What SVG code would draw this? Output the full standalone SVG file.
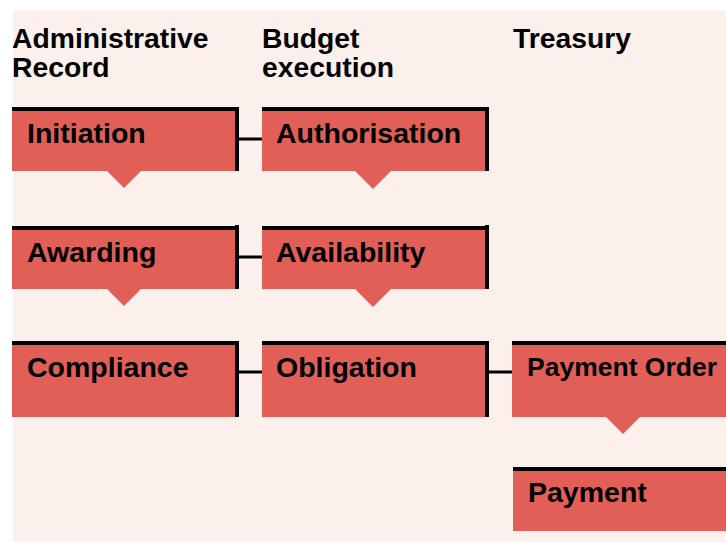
<svg xmlns="http://www.w3.org/2000/svg" width="726" height="543" viewBox="0 0 726 543">
  <style>
    .bg { fill: #fbf0ec; }
    .box { fill: #e25f58; }
    .edge { fill: #000000; }
    .tip { fill: #e25f58; }
    .head { font-family: "Liberation Sans", Arial, sans-serif; font-weight: bold; font-size: 28.3px; fill: #000; }
    .label { font-family: "Liberation Sans", Arial, sans-serif; font-weight: bold; font-size: 28.5px; fill: #000; }
    .label.small { font-size: 26.5px; }
    .link { stroke: #000; stroke-width: 3; fill: none; }
  </style>
  <rect width="726" height="543" fill="#ffffff"/>
  <rect class="bg" x="13" y="10" width="713" height="532"/>

  <!-- column headings -->
  <g id="headings">
    <text class="head" x="12" y="48">Administrative</text>
    <text class="head" x="12" y="77">Record</text>
    <text class="head" x="262" y="48">Budget</text>
    <text class="head" x="262" y="77">execution</text>
    <text class="head" x="513" y="48">Treasury</text>
  </g>

  <!-- connectors between columns -->
  <g id="connectors">
    <line class="link" x1="239" y1="139" x2="262" y2="139"/>
    <line class="link" x1="239" y1="257" x2="262" y2="257"/>
    <line class="link" x1="239" y1="372" x2="262" y2="372"/>
    <line class="link" x1="489" y1="372" x2="512" y2="372"/>
  </g>

  <g id="initiation">
    <rect class="box" x="12" y="107" width="227" height="64"/>
    <rect class="edge" x="12" y="107" width="227" height="4"/>
    <rect class="edge" x="235" y="107" width="4" height="64"/>
    <polygon class="tip" points="107,171 141,171 124,188"/>
    <text class="label" x="27" y="143">Initiation</text>
  </g>

  <g id="authorisation">
    <rect class="box" x="262" y="107" width="227" height="64"/>
    <rect class="edge" x="262" y="107" width="227" height="4"/>
    <rect class="edge" x="485" y="107" width="4" height="64"/>
    <polygon class="tip" points="355,171 391,171 373,189"/>
    <text class="label" x="276" y="143">Authorisation</text>
  </g>

  <g id="awarding">
    <rect class="box" x="12" y="226" width="227" height="63"/>
    <rect class="edge" x="12" y="226" width="227" height="4"/>
    <rect class="edge" x="235" y="225" width="4" height="64"/>
    <polygon class="tip" points="107,289 141,289 124,306"/>
    <text class="label" x="27" y="262">Awarding</text>
  </g>

  <g id="availability">
    <rect class="box" x="262" y="226" width="227" height="63"/>
    <rect class="edge" x="262" y="226" width="227" height="4"/>
    <rect class="edge" x="485" y="225" width="4" height="64"/>
    <polygon class="tip" points="355,289 391,289 373,307"/>
    <text class="label" x="276" y="262">Availability</text>
  </g>

  <g id="compliance">
    <rect class="box" x="12" y="341" width="227" height="76"/>
    <rect class="edge" x="12" y="341" width="227" height="4"/>
    <rect class="edge" x="235" y="341" width="4" height="76"/>
    <text class="label" x="27" y="377">Compliance</text>
  </g>

  <g id="obligation">
    <rect class="box" x="262" y="341" width="227" height="76"/>
    <rect class="edge" x="262" y="341" width="227" height="4"/>
    <rect class="edge" x="485" y="341" width="4" height="76"/>
    <text class="label" x="276" y="377">Obligation</text>
  </g>

  <g id="payment-order">
    <rect class="box" x="512" y="341" width="214" height="76"/>
    <rect class="edge" x="512" y="341" width="214" height="4"/>
    <polygon class="tip" points="606,417 640,417 623,434"/>
    <text class="label small" x="527" y="376">Payment Order</text>
  </g>

  <g id="payment">
    <rect class="box" x="513" y="467" width="213" height="64"/>
    <rect class="edge" x="513" y="467" width="213" height="4"/>
    <text class="label" x="528" y="502">Payment</text>
  </g>
</svg>
